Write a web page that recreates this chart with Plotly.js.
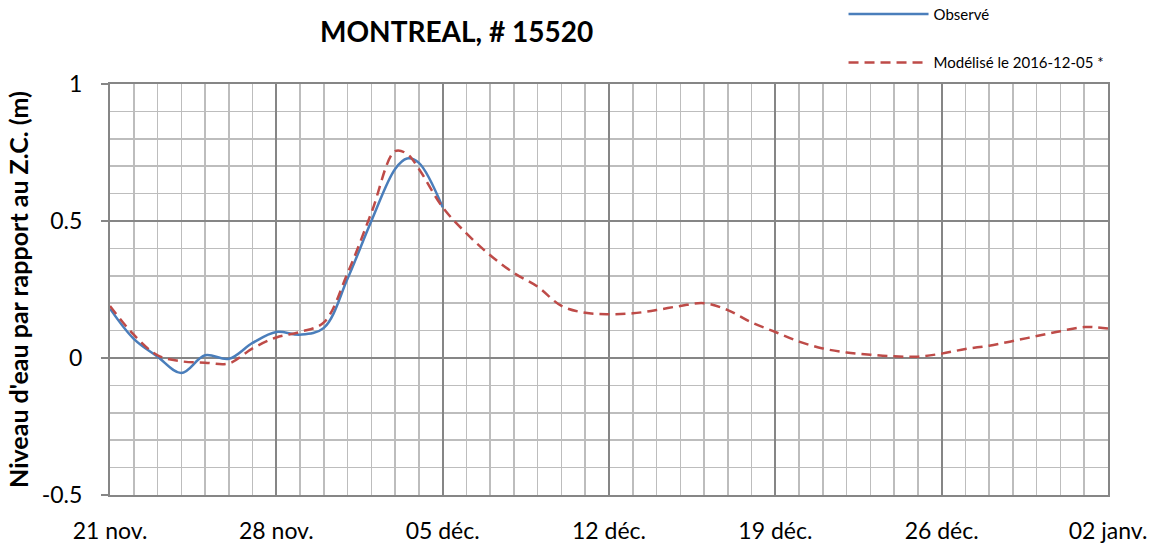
<!DOCTYPE html>
<html>
<head>
<meta charset="utf-8">
<script src="https://cdn.plot.ly/plotly-3.0.1.min.js"></script>
<style>html,body{margin:0;padding:0;background:#fff;}#chart{width:1150px;height:550px;}</style>
</head>
<body>
<div id="chart"></div>
<script>
// Observed series
const obsDates = ['2016-11-21','2016-11-22','2016-11-23','2016-11-24','2016-11-25','2016-11-26','2016-11-27','2016-11-28','2016-11-29','2016-11-30','2016-12-01','2016-12-02','2016-12-03','2016-12-03 12:00','2016-12-04','2016-12-05'];
const obsValues = [0.18,0.07,0.005,-0.055,0.01,-0.003,0.055,0.095,0.085,0.11,0.29,0.50,0.69,0.728,0.712,0.55];

// Modelled series
const modDates = ['2016-11-21','2016-11-22','2016-11-23','2016-11-24','2016-11-25','2016-11-26','2016-11-27','2016-11-28','2016-11-29','2016-11-30','2016-12-01','2016-12-02','2016-12-03','2016-12-03 12:00','2016-12-04','2016-12-05','2016-12-06','2016-12-07','2016-12-08','2016-12-09','2016-12-10','2016-12-11','2016-12-12','2016-12-13','2016-12-14','2016-12-15','2016-12-16','2016-12-17','2016-12-18','2016-12-19','2016-12-20','2016-12-21','2016-12-22','2016-12-23','2016-12-24','2016-12-25','2016-12-26','2016-12-27','2016-12-28','2016-12-29','2016-12-30','2016-12-31','2017-01-01','2017-01-02'];
const modValues = [0.19,0.085,0.01,-0.012,-0.017,-0.02,0.035,0.075,0.095,0.13,0.31,0.53,0.755,0.745,0.69,0.55,0.455,0.375,0.31,0.26,0.19,0.165,0.16,0.163,0.175,0.19,0.20,0.175,0.13,0.095,0.06,0.035,0.02,0.012,0.006,0.005,0.016,0.033,0.045,0.062,0.08,0.098,0.113,0.108];

// Tick labels
const xTickVals = ['2016-11-21','2016-11-28','2016-12-05','2016-12-12','2016-12-19','2016-12-26','2017-01-02'];
const xTickText = ['21 nov.','28 nov.','05 déc.','12 déc.','19 déc.','26 déc.','02 janv.'];
const yTickVals = [-0.5,0,0.5,1];
const yTickText = ['-0.5','0','0.5','1'];

const FONT = 'Lato, "Open Sans", "Noto Sans", sans-serif';
const DAY = 86400000;

// minor grid positions (daily / every 0.1), skipping the major ones
const minorX = [];
const start = Date.UTC(2016, 10, 21), end = Date.UTC(2017, 0, 2);
for (let t = start, i = 0; t <= end; t += DAY, i++) {
  if (i % 7 !== 0) minorX.push(new Date(t).toISOString().slice(0, 10));
}
const minorY = [];
for (let k = -5; k <= 10; k++) { if (k % 5 !== 0) minorY.push(k / 10); }

const traces = [
  {x: obsDates, y: obsValues, type: 'scatter', mode: 'lines', name: 'Observé',
   line: {color: '#4a7ebb', width: 2.5, shape: 'spline', smoothing: 1}, legendgroup: 'a'},
  {x: modDates, y: modValues, type: 'scatter', mode: 'lines', name: 'Modélisé le 2016-12-05 *',
   line: {color: '#be4b48', width: 2.5, dash: '10px,6px', shape: 'spline', smoothing: 1}, legendgroup: 'b'}
];

const layout = {
  width: 1150, height: 550,
  margin: {l: 110, r: 42, t: 84, b: 55, autoexpand: false},
  paper_bgcolor: '#ffffff', plot_bgcolor: '#ffffff',
  font: {family: FONT, color: '#000000'},
  title: {text: '<b>MONTREAL, # 15520</b>', font: {family: FONT, size: 28, color: '#000'},
          x: 0.397, xref: 'container', xanchor: 'center', y: 0.942, yref: 'container', yanchor: 'middle'},
  showlegend: true,
  legend: {x: 0.735, y: 1.21, xanchor: 'left', yanchor: 'top', xref: 'paper', yref: 'paper',
           font: {family: FONT, size: 15, color: '#000'}, itemwidth: 80,
           tracegroupgap: 26, traceorder: 'grouped', bgcolor: 'rgba(0,0,0,0)'},
  xaxis: {
    type: 'date', range: ['2016-11-21', '2017-01-02'],
    tickmode: 'array', tickvals: xTickVals, ticktext: xTickText,
    ticks: '', showgrid: true, gridcolor: '#868686', gridwidth: 2,
    showline: true, linecolor: '#868686', linewidth: 2, mirror: true,
    zeroline: false,
    tickfont: {family: FONT, size: 23, color: '#000'}, ticklabelstandoff: 14,
    minor: {tickmode: 'array', tickvals: minorX, showgrid: true, gridcolor: '#bdbdbd', gridwidth: 1.5, ticks: ''}
  },
  yaxis: {
    range: [-0.5, 1], tickmode: 'array', tickvals: yTickVals, ticktext: yTickText,
    ticks: 'outside', ticklen: 7, tickcolor: '#868686', tickwidth: 1.5,
    showgrid: true, gridcolor: '#868686', gridwidth: 2,
    showline: true, linecolor: '#868686', linewidth: 2, mirror: true,
    zeroline: false,
    tickfont: {family: FONT, size: 23, color: '#000'}, ticklabelstandoff: 14,
    title: {text: "<b>Niveau d'eau par rapport au Z.C. (m)</b>", font: {family: FONT, size: 25, color: '#000'}, standoff: 6},
    minor: {tickmode: 'array', tickvals: minorY, showgrid: true, gridcolor: '#bdbdbd', gridwidth: 1.5, ticks: ''}
  }
};

Plotly.newPlot('chart', traces, layout, {displayModeBar: false, staticPlot: true});
</script>
</body>
</html>
